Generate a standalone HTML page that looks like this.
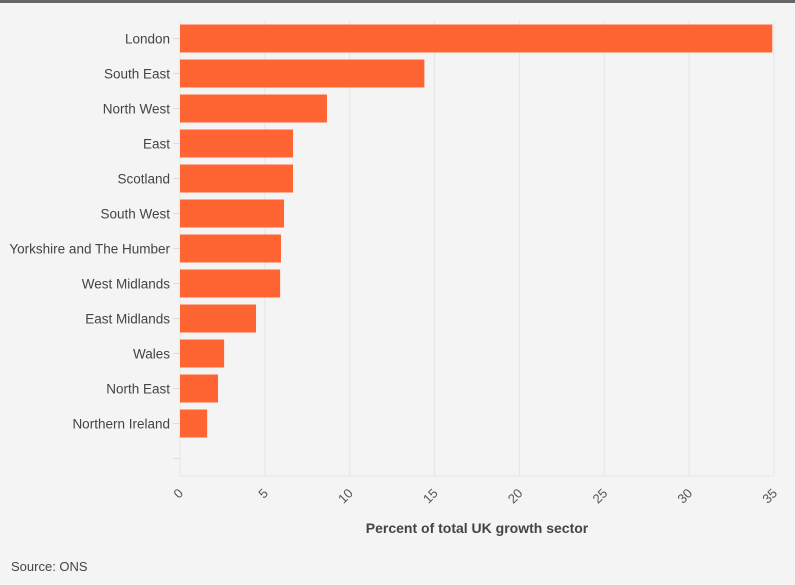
<!DOCTYPE html>
<html><head><meta charset="utf-8"><style>
body{margin:0;background:#f4f4f4;font-family:"Liberation Sans",sans-serif;}
#wrap{position:relative;width:795px;height:585px;background:#f4f4f4;overflow:hidden}
#topbar{position:absolute;left:0;top:0;width:795px;height:3px;background:#666}
#src{position:absolute;left:11px;top:559px;font-size:13px;color:#444}
</style></head><body>
<div id="wrap">
<div id="topbar"></div>
<svg id="chart" width="795" height="585" style="position:absolute;left:0;top:0"></svg>
<div id="src">Source: ONS</div>
</div>
<script>
const categories=["London","South East","North West","East","Scotland","South West","Yorkshire and The Humber","West Midlands","East Midlands","Wales","North East","Northern Ireland",""];
const values=[34.9,14.4,8.66,6.66,6.66,6.13,5.95,5.9,4.48,2.6,2.24,1.6,null];
const ticks=[0,5,10,15,20,25,30,35];
const NS="http://www.w3.org/2000/svg";
const svg=document.getElementById('chart');
const plotX0=180,plotX1=774,plotTop=21,plotBottom=476,xmax=35;
const xs=v=>plotX0+(v/xmax)*(plotX1-plotX0);
const step=(plotBottom-plotTop)/categories.length;
const yc=i=>plotTop+step*(i+0.5);
function mk(t,a){const e=document.createElementNS(NS,t);for(const k in a)e.setAttribute(k,a[k]);svg.appendChild(e);return e;}
ticks.forEach(t=>{
 const g=mk('line',{x1:xs(t),x2:xs(t),y1:plotTop,y2:plotBottom,stroke:'#e6e6e6','stroke-width':1});
 
 
 const tx=mk('text',{x:xs(t)+4,y:494,'font-size':13,fill:'#555','text-anchor':'end',transform:`rotate(-45 ${xs(t)+4} 494)`});
 tx.textContent=t;
 
 
});
const base=mk('line',{x1:plotX0,x2:plotX1,y1:plotBottom,y2:plotBottom,stroke:'#e6e6e6','stroke-width':1});


categories.forEach((c,i)=>{
 const tk=mk('line',{x1:173,x2:180,y1:yc(i),y2:yc(i),stroke:'#ddd','stroke-width':1});
 
 
 if(c){
  const l=mk('text',{x:170,y:yc(i)+5,'font-size':13.5,fill:'#444','text-anchor':'end'});
  l.textContent=c;
  
  
 }
 if(values[i]!=null){
  const b=mk('rect',{x:plotX0,y:yc(i)-14,width:xs(values[i])-plotX0,height:28,fill:'#ff6433'});
  
  
 }
});
const at=mk('text',{x:477,y:533,'font-size':14,'font-weight':'bold',fill:'#444','text-anchor':'middle'});
at.textContent='Percent of total UK growth sector';


</script>
</body></html>
